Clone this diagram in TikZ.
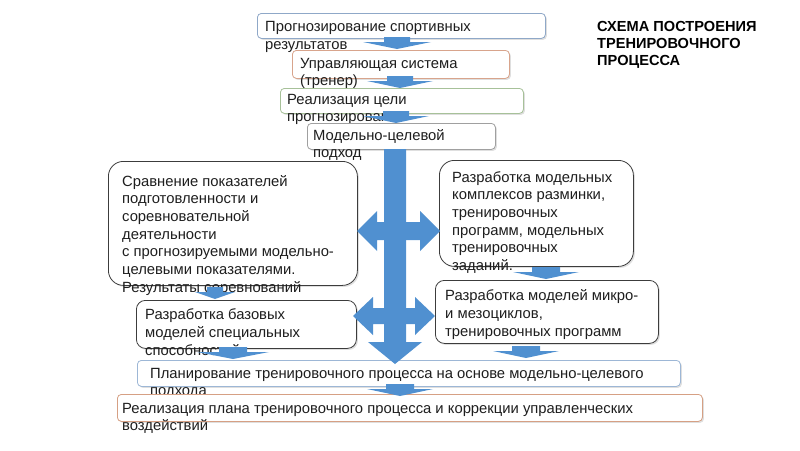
\documentclass[tikz,border=0pt]{standalone}
\usepackage{fontspec}
\setmainfont{Liberation Sans}
\usetikzlibrary{shadows}
\definecolor{arr}{RGB}{80,144,208}
\definecolor{txt}{RGB}{30,30,30}
\definecolor{cA}{RGB}{143,168,200}
\definecolor{cB}{RGB}{216,164,140}
\definecolor{cC}{RGB}{167,193,153}
\definecolor{cD}{RGB}{160,160,160}
\definecolor{cE}{RGB}{60,60,60}
\definecolor{cF}{RGB}{157,183,214}
\definecolor{cG}{RGB}{214,160,132}
\newcommand\chev[4]{%
  \fill[arr] (#1-#3,#2) -- (#1+#3,#2) -- (#1+#3,#2+5) -- (#1+#4,#2+5) -- (#1,#2+12)
    -- (#1-#4,#2+5) -- (#1-#3,#2+5) -- cycle;}
\tikzset{
  boxx/.style={draw, fill=white, line width=0.8pt, inner sep=0pt, anchor=north west,
    drop shadow={shadow xshift=1.5pt, shadow yshift=-1.5pt, opacity=0.25}},
  lbl/.style={inner sep=0pt, anchor=base west, align=left, text=txt,
    font=\fontsize{14.8}{17.5}\selectfont},
  lblb/.style={lbl, font=\fontsize{14.8}{17.7}\selectfont},
}
\begin{document}
\begin{tikzpicture}[x=1pt,y=-1pt]
\useasboundingbox (0,0) rectangle (800,450);
\fill[white] (0,0) rectangle (800,450);

% (node base = baseline of the last line)
\node[boxx, draw=cA, rounded corners=4pt, minimum width=288pt, minimum height=25pt] (b1) at (257,13) {};
\node[lbl] (t1) at (265,49) {Прогнозирование спортивных\\результатов};
\node[boxx, draw=cB, rounded corners=4pt, minimum width=217pt, minimum height=28pt] (b2) at (292,50) {};
\node[lbl] (t2) at (300,85.5) {Управляющая система\\(тренер)};
\node[boxx, draw=cC, rounded corners=4pt, minimum width=243pt, minimum height=25pt] (b3) at (280,88) {};
\node[lbl] (t3) at (287,121.5) {Реализация цели\\прогнозирования};
\node[boxx, draw=cD, rounded corners=4pt, minimum width=188pt, minimum height=26pt] (b4) at (307,123) {};
\node[lbl] (t4) at (313,157.5) {Модельно-целевой\\подход};

\node[boxx, draw=cE, rounded corners=15pt, minimum width=249pt, minimum height=124pt] (b5) at (108,161) {};
\node[lblb] (t5) at (122,292.2) {Сравнение показателей\\подготовленности и\\соревновательной\\деятельности\\с прогнозируемыми модельно-\\целевыми показателями.\\Результаты соревнований};
\node[boxx, draw=cE, rounded corners=15pt, minimum width=194pt, minimum height=106pt] (b6) at (439,160) {};
\node[lblb] (t6) at (452,270.5) {Разработка модельных\\комплексов разминки,\\тренировочных\\программ, модельных\\тренировочных\\заданий.};
\node[boxx, draw=cE, rounded corners=9pt, minimum width=223pt, minimum height=63pt] (b7) at (435,280) {};
\node[lblb] (t7) at (445,336) {Разработка моделей микро-\\и мезоциклов,\\тренировочных программ};
\node[boxx, draw=cE, rounded corners=9pt, minimum width=220pt, minimum height=48pt] (b8) at (136,300) {};
\node[lblb] (t8) at (145,355) {Разработка базовых\\моделей специальных\\способностей};

\node[boxx, draw=cF, rounded corners=4pt, minimum width=543pt, minimum height=26pt] (b9) at (137,360) {};
\node[lbl] (t9) at (150,395.5) {Планирование тренировочного процесса на основе модельно-целевого\\подхода};
\node[boxx, draw=cG, rounded corners=4pt, minimum width=585pt, minimum height=27pt] (b10) at (117,394) {};
\node[lbl] (t10) at (122,430.5) {Реализация плана тренировочного процесса и коррекции управленческих\\воздействий};

\node[lbl, font=\fontsize{14.6}{16.8}\selectfont\bfseries, text=black] (title) at (597,65) {СХЕМА ПОСТРОЕНИЯ\\ТРЕНИРОВОЧНОГО\\ПРОЦЕССА};

% small chevron arrows
\chev{397}{37}{13}{34}
\chev{400}{76}{13}{33}
\chev{396}{111}{13}{33}
\chev{215}{287}{8}{20}
\chev{546}{267}{14}{33}
\chev{233}{347}{14}{36}
\chev{526}{346}{14}{33}
\chev{400}{384}{14}{33}

% main vertical arrow
\fill[arr] (384,149) -- (406,149) -- (406,342) -- (422,342) -- (395,364) -- (368,342) -- (384,342) -- cycle;
% horizontal double arrows
\fill[arr] (357,231) -- (377,211) -- (377,222) -- (420,222) -- (420,211) -- (440,231)
  -- (420,251) -- (420,240) -- (377,240) -- (377,251) -- cycle;
\fill[arr] (353,316) -- (373,297) -- (373,308) -- (415,308) -- (415,297) -- (435,316)
  -- (415,335) -- (415,324) -- (373,324) -- (373,335) -- cycle;
\end{tikzpicture}
\end{document}
